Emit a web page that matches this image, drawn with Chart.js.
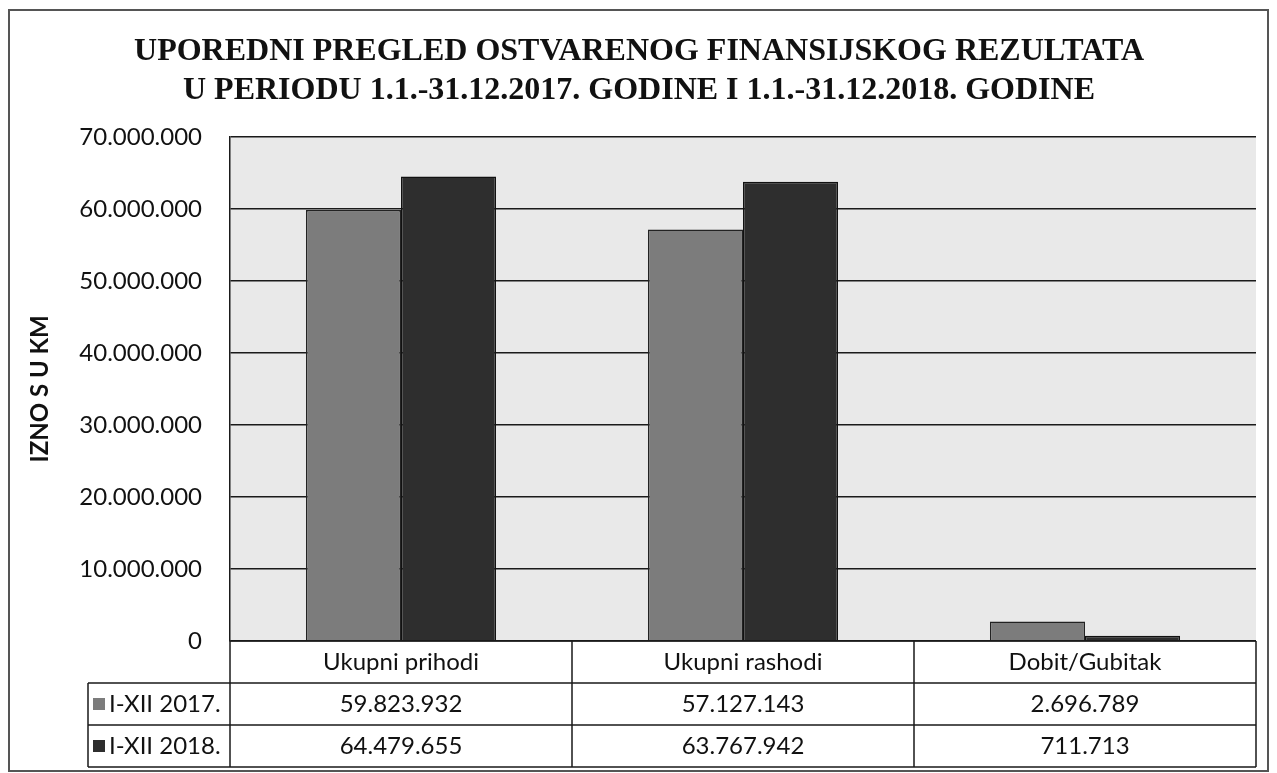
<!DOCTYPE html>
<html>
<head>
<meta charset="utf-8">
<script src="https://cdn.jsdelivr.net/npm/chart.js@4"></script>
<style>
  body { margin: 0; background: #fff; }
  canvas { display: block; }
</style>
</head>
<body>
<canvas id="graph" width="1277" height="773"></canvas>
<script>
const categories = ['Ukupni prihodi', 'Ukupni rashodi', 'Dobit/Gubitak'];
const seriesNames = ['I-XII 2017.', 'I-XII 2018.'];
const values2017 = [59823932, 57127143, 2696789];
const values2018 = [64479655, 63767942, 711713];
const yTicks = [0, 10000000, 20000000, 30000000, 40000000, 50000000, 60000000, 70000000];

const colors = ['#7c7c7c', '#2e2e2e'];
const uiFont = 'Lato, "Open Sans", sans-serif';

function fmt(v) {
  return v.toLocaleString('de-DE');
}

// fill plot background, draw data table and outer frame
const tablePlugin = {
  id: 'tablePlugin',
  beforeDraw(chart) {
    const a = chart.chartArea;
    const c = chart.ctx;
    c.save();
    c.fillStyle = '#e9e9e9';
    c.fillRect(a.left, a.top, a.right - a.left, a.bottom - a.top);
    c.restore();
  },
  afterDraw(chart) {
    const a = chart.chartArea;
    const c = chart.ctx;
    const rowH = 42;
    const legendLeft = 88;
    const top = a.bottom;
    const colW = (a.right - a.left) / categories.length;
    c.save();
    c.strokeStyle = '#1a1a1a';
    c.lineWidth = 1.5;
    c.beginPath();
    c.moveTo(a.left, top); c.lineTo(a.right, top);
    for (let r = 1; r <= 3; r++) {
      c.moveTo(legendLeft, top + rowH * r); c.lineTo(a.right, top + rowH * r);
    }
    for (let i = 0; i <= categories.length; i++) {
      const x = a.left + colW * i;
      c.moveTo(x, top); c.lineTo(x, top + rowH * 3);
    }
    c.moveTo(legendLeft, top + rowH); c.lineTo(legendLeft, top + rowH * 3);
    c.stroke();

    c.fillStyle = '#111';
    c.font = '24px ' + uiFont;
    c.textBaseline = 'middle';
    c.textAlign = 'center';
    categories.forEach((cat, i) => {
      const x = a.left + colW * (i + 0.5);
      c.fillText(cat, x, top + rowH * 0.5);
      c.fillText(fmt(values2017[i]), x, top + rowH * 1.5);
      c.fillText(fmt(values2018[i]), x, top + rowH * 2.5);
    });
    c.textAlign = 'left';
    seriesNames.forEach((name, r) => {
      const y = top + rowH * (r + 1.5);
      c.fillStyle = colors[r];
      c.fillRect(legendLeft + 5, y - 6, 12, 12);
      c.fillStyle = '#111';
      c.fillText(name, legendLeft + 21, y);
    });

    // outer frame
    c.strokeStyle = '#555';
    c.lineWidth = 2;
    c.strokeRect(9, 10, 1259, 761);
    c.restore();
  }
};

new Chart(document.getElementById('graph'), {
  type: 'bar',
  data: {
    labels: categories,
    datasets: [
      { label: seriesNames[0], data: values2017, backgroundColor: colors[0], borderColor: '#222', borderWidth: 1.5 },
      { label: seriesNames[1], data: values2018, backgroundColor: colors[1], borderColor: '#111', borderWidth: 1.5 }
    ]
  },
  options: {
    responsive: false,
    animation: false,
    layout: { padding: { left: 22, right: 21, top: 0, bottom: 132 } },
    datasets: { bar: { categoryPercentage: 0.556, barPercentage: 1.0 } },
    plugins: {
      legend: { display: false },
      tooltip: { enabled: false },
      title: {
        display: true,
        text: ['UPOREDNI PREGLED OSTVARENOG FINANSIJSKOG REZULTATA',
               'U PERIODU 1.1.-31.12.2017. GODINE I 1.1.-31.12.2018. GODINE'],
        color: '#111',
        font: { family: '"Liberation Serif", "Times New Roman", serif', size: 32, weight: 'bold', lineHeight: 1.2 },
        padding: { top: 33, bottom: 27 }
      }
    },
    scales: {
      x: {
        ticks: { display: false },
        grid: { display: false },
        border: { display: false },
        afterFit(scale) { scale.height = 0; }
      },
      y: {
        min: 0,
        max: 70000000,
        afterBuildTicks(scale) { scale.ticks = yTicks.map(v => ({ value: v })); },
        afterFit(scale) { scale.width = 208; },
        ticks: {
          color: '#111',
          padding: 28,
          font: { family: uiFont, size: 24 },
          callback: v => fmt(v)
        },
        grid: { color: '#1a1a1a', lineWidth: 1.5, drawTicks: false },
        border: { color: '#1a1a1a', width: 1.5 },
        title: {
          display: true,
          text: 'IZNO S U KM',
          color: '#111',
          font: { family: uiFont, size: 24, weight: 'bold' },
          padding: { bottom: 0 }
        }
      }
    }
  },
  plugins: [tablePlugin]
});
</script>
</body>
</html>
